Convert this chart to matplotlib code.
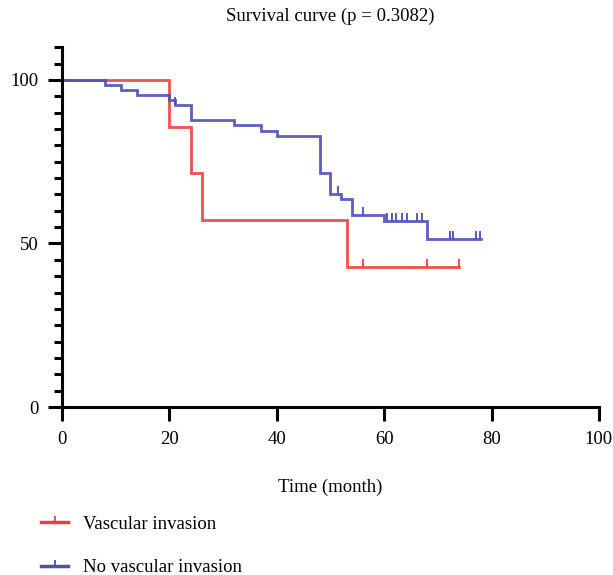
import numpy as np
import matplotlib.pyplot as plt
from matplotlib.lines import Line2D

plt.rcParams['font.family'] = ['Liberation Serif', 'DejaVu Serif']

# Kaplan-Meier steps (time in months, survival in %)
red_times = [0, 20, 24, 26, 53, 74]
red_surv = [100, 85.7, 71.4, 57.1, 42.9, 42.9]
red_censor = [56, 68, 74]

blue_times = [0, 8, 11, 14, 20, 21, 24, 32, 37, 40, 48, 50, 52, 54, 60, 68, 78]
blue_surv = [100, 98.5, 96.9, 95.4, 94.0, 92.3, 87.7, 86.1, 84.5, 82.8,
             71.4, 65.2, 63.6, 58.6, 56.9, 51.3, 51.3]
blue_censor = [21, 51.5, 56, 60.5, 61.4, 62.3, 63.3, 64.2, 66.2, 67,
               72.3, 72.9, 77.2, 77.8]

labels = ['Vascular invasion', 'No vascular invasion']
red = '#e8413e'
blue = '#4e4eb2'

# upward tick used for censored points
tick = [(0, 0), (0, 1)]


def surv_at(times, surv, t):
    idx = np.searchsorted(times, t, side='right') - 1
    return np.array(surv)[idx]


fig = plt.figure(figsize=(6.13, 5.75), dpi=100)
ax = fig.add_axes([0.101, 0.292, 0.876, 0.626])

for times, surv, cens, col in [(red_times, red_surv, red_censor, red),
                               (blue_times, blue_surv, blue_censor, blue)]:
    ax.step(times, surv, where='post', color=col, lw=2.0, alpha=0.9,
            solid_joinstyle='miter')
    ax.plot(cens, surv_at(times, surv, cens), ls='none', marker=tick,
            markersize=11, markeredgewidth=1.3, markeredgecolor=col)

ax.set_xlim(0, 100)
ax.set_ylim(0, 110)
ax.set_xticks([0, 20, 40, 60, 80, 100])
ax.set_yticks([0, 50, 100])
ax.set_yticks(np.arange(0, 111, 5), minor=True)
ax.spines['top'].set_visible(False)
ax.spines['right'].set_visible(False)
for s in ['left', 'bottom']:
    ax.spines[s].set_linewidth(2.2)
ax.tick_params(which='major', length=10, width=2.2, labelsize=13.5, pad=7)
ax.tick_params(axis='y', which='minor', length=5.5, width=2.2)
ax.set_xlabel('Time (month)', fontsize=13.5, labelpad=22)
ax.set_title('Survival curve (p = 0.3082)', fontsize=13.5, pad=19)

handles = [Line2D([0], [0], color=red, lw=2.5, marker=tick, markersize=9,
                  markeredgewidth=1.3, markeredgecolor=red),
           Line2D([0], [0], color=blue, lw=2.5, marker=tick, markersize=9,
                  markeredgewidth=1.3, markeredgecolor=blue)]
fig.legend(handles, labels, loc='upper left', bbox_to_anchor=(0.055, 0.116),
           frameon=False, fontsize=13.5, handlelength=1.45, handletextpad=0.8,
           numpoints=1, labelspacing=1.4, borderaxespad=0)

fig.savefig('out.png', dpi=100)
